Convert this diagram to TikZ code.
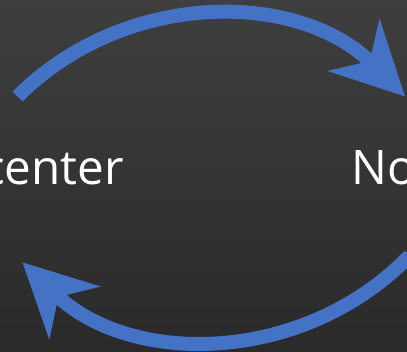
\documentclass[tikz,border=0pt]{standalone}
\usepackage{fontspec}
\setmainfont{Open Sans}
\usetikzlibrary{arrows.meta}
\definecolor{arcblue}{HTML}{4472C4}
\definecolor{bgtop}{HTML}{3E3E3E}
\definecolor{bgbot}{HTML}{2A2A2A}
\tikzset{
  cyclearc/.style={draw=arcblue, line width=14pt, line cap=butt,
    -{Stealth[length=72pt, width=72pt, inset=22pt, fill=arcblue]}},
  label/.style={text=white, inner sep=0pt, font=\fontsize{47.6}{57}\selectfont}
}
\begin{document}
\begin{tikzpicture}[x=1pt,y=1pt]
  \useasboundingbox (0,0) rectangle (407,351);
  \clip (0,0) rectangle (407,351);
  \shade[top color=bgtop, bottom color=bgbot] (0,0) rectangle (407,351);
  \node[label, anchor=base east] (left) at (124,166) {center};
  \node[label, anchor=base west] (right) at (351,166) {No};
  \coordinate (topstart) at (17.6,254.5);
  \coordinate (botstart) at (409.8,95.5);
  \draw[cyclearc] (topstart) arc[start angle=135, end angle=45, radius=274];
  \draw[cyclearc] (botstart) arc[start angle=-44, end angle=-134, radius=274];
\end{tikzpicture}
\end{document}
